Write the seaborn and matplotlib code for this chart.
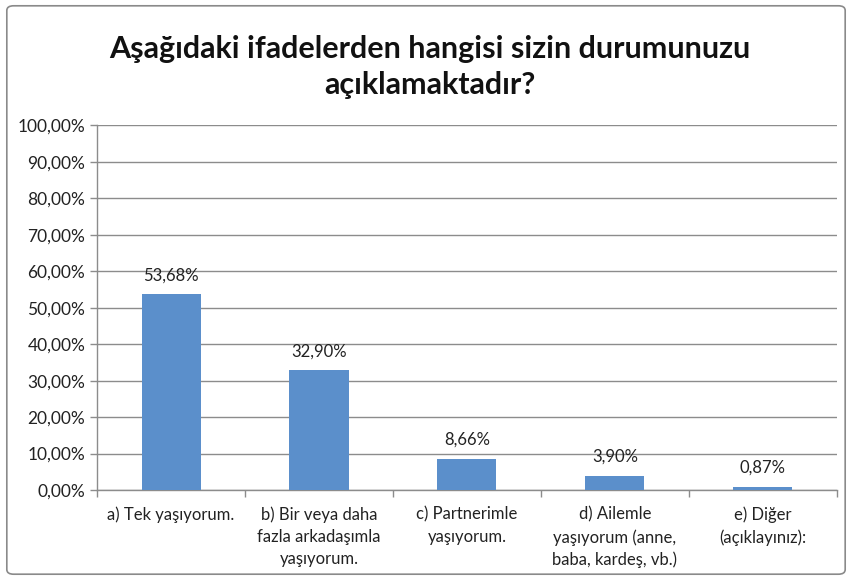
import numpy as np
import pandas as pd
import matplotlib
matplotlib.use('Agg')
import matplotlib.pyplot as plt
import seaborn as sns
from matplotlib.patches import FancyBboxPatch
from matplotlib.ticker import FuncFormatter, FixedLocator

# data
categories = ['a) Tek yaşıyorum.',
              'b) Bir veya daha\nfazla arkadaşımla\nyaşıyorum.',
              'c) Partnerimle\nyaşıyorum.',
              'd) Ailemle\nyaşıyorum (anne,\nbaba, kardeş, vb.)',
              'e) Diğer\n(açıklayınız):']
percent = [53.68, 32.90, 8.66, 3.90, 0.87]
title = 'Aşağıdaki ifadelerden hangisi sizin durumunuzu\naçıklamaktadır?'

df = pd.DataFrame({'cat': categories, 'pct': percent})

sns.set_theme(style='white')
plt.rcParams['font.family'] = ['Lato', 'DejaVu Sans']

fig = plt.figure(figsize=(8.52, 5.8), dpi=100)
ax = fig.add_axes([0.114, 0.155, 0.868, 0.629])

sns.barplot(data=df, x='cat', y='pct', color='#5b8fcb', width=0.4,
            saturation=1, linewidth=0, ax=ax, zorder=3)

ax.set_ylim(0, 100)
ax.set_yticks(np.arange(0, 101, 10))
ax.yaxis.set_major_formatter(FuncFormatter(lambda v, p: f'{v:.2f}%'.replace('.', ',')))
ax.yaxis.grid(True, color='#8c8c8c', linewidth=1, zorder=0)
ax.set_xlim(-0.5, len(categories) - 0.5)
ax.set_xlabel('')
ax.set_ylabel('')

# value labels
for i, v in enumerate(percent):
    ax.text(i, v + 3, f'{v:.2f}%'.replace('.', ','), ha='center', va='bottom',
            fontsize=12, color='#222222')

ax.tick_params(axis='y', labelsize=12.5, colors='#222222', length=5, width=1,
               left=True, direction='out', color='#8c8c8c')
ax.tick_params(axis='x', labelsize=12, colors='#222222', length=0, pad=12)
for lab in ax.get_xticklabels():
    lab.set_ha('center')
    lab.set_multialignment('center')
    lab.set_linespacing(1.45)

# tick marks at category boundaries
ax.xaxis.set_minor_locator(FixedLocator(np.arange(-0.5, len(categories), 1)))
ax.tick_params(axis='x', which='minor', length=5, width=1, color='#8c8c8c',
               bottom=True, direction='out')

for s in ['top', 'right']:
    ax.spines[s].set_visible(False)
for s in ['left', 'bottom']:
    ax.spines[s].set_color('#8c8c8c')
    ax.spines[s].set_linewidth(1)

fig.text(0.505, 0.885, title, ha='center', va='center', fontsize=22,
         fontweight='bold', color='#111111', linespacing=1.35)

border = FancyBboxPatch((0.008, 0.01), 0.984, 0.98, boxstyle='round,pad=0,rounding_size=0.008',
                        transform=fig.transFigure, fill=False, edgecolor='#8a8a8a',
                        linewidth=1.2)
fig.patches.append(border)

fig.savefig('out.png', dpi=100)
